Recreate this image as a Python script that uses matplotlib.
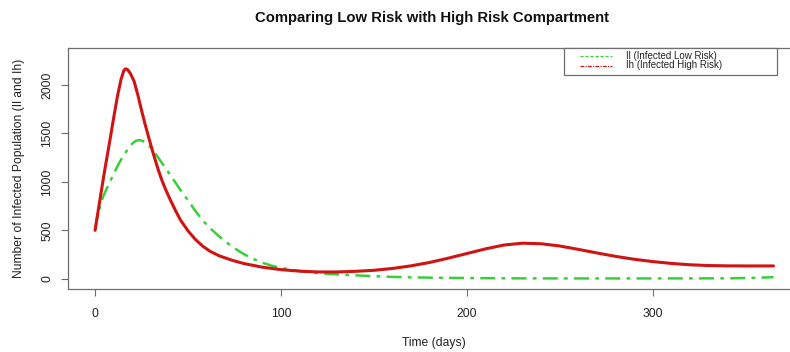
import matplotlib
matplotlib.use("Agg")
import matplotlib.pyplot as plt
from matplotlib.lines import Line2D
from matplotlib.patches import Rectangle

plt.rcParams['font.family'] = ['Liberation Sans', 'DejaVu Sans']

# Infected High Risk (Ih)
t_high = [0, 2, 4, 6, 8, 10, 12, 14, 15.5, 16.4, 17.5, 19, 21, 23, 25, 27, 29, 31, 32,
          34, 36, 38, 40, 43, 46, 50, 54, 58, 62, 67, 73.5, 80, 90, 100, 110, 120,
          130, 140, 150, 160, 170, 180, 190, 200, 210, 220, 230, 240, 250, 260, 270,
          280, 290, 300, 310, 320, 330, 340, 350, 365]
v_high = [500, 740, 980, 1210, 1430, 1660, 1880, 2060, 2150, 2168, 2160, 2120, 2040, 1900, 1740,
          1590, 1450, 1315, 1250, 1125, 1015, 920, 835, 715, 605, 495, 405, 335, 282, 235,
          192, 157, 119, 94, 78, 70, 70, 76, 87, 106, 133, 168, 212, 260, 308, 348, 367,
          361, 338, 303, 266, 231, 201, 177, 158, 144, 136, 133, 132, 132]

# Infected Low Risk (Il)
t_low = [0, 1, 2, 3, 4, 6, 8, 10, 12, 14, 16, 18, 20, 22, 24, 26, 28, 30, 32, 34,
         36, 38, 40, 43, 46, 50, 54, 58, 62, 66, 70, 75, 80, 85, 90, 95, 100, 105,
         110, 115, 120, 130, 140, 150, 160, 170, 180, 200, 225, 250, 300, 340, 355, 365]
v_low = [500, 610, 700, 770, 830, 920, 1000, 1080, 1160, 1230, 1290, 1350, 1395, 1425, 1432,
         1420, 1395, 1355, 1305, 1250, 1195, 1140, 1085, 1000, 915, 810, 700, 600, 520, 450,
         385, 315, 255, 205, 165, 135, 112, 95, 80, 67, 57, 45, 35, 26, 19, 14, 11, 7, 4,
         3, 3, 4, 9, 16]

title = "Comparing Low Risk with High Risk Compartment"
xlabel = "Time (days)"
ylabel = "Number of Infected Population (Il and Ih)"
legend_labels = ["Il (Infected Low Risk)", "Ih (Infected High Risk)"]
xticks = [0, 100, 200, 300]
yticks = [0, 500, 1000, 1500, 2000]

red = "#d01414"
green = "#38cf38"
axcol = "#6e6e6e"
txtcol = "#222222"

W, H = 790, 352
fig = plt.figure(figsize=(W / 100, H / 100), dpi=100)
left_px, right_px, top_px, bot_px = 67.9, 800.7, 47.7, 288.5
ax = fig.add_axes([left_px / W, 1 - bot_px / H, (right_px - left_px) / W, (bot_px - top_px) / H])

ax.plot(t_low, v_low, color=green, lw=1.8, linestyle=(0, (6, 2.5, 1.5, 2.5)), zorder=2)
ax.plot(t_high, v_high, color=red, lw=2.2, solid_capstyle='round', solid_joinstyle='round',
        zorder=3)

ax.set_xlim(-14.6, 379.6)
ax.set_ylim(-101, 2386)
ax.set_xticks(xticks)
ax.set_yticks(yticks)
ax.set_xticklabels([str(v) for v in xticks])
ax.set_yticklabels([str(v) for v in yticks], rotation=90, va='center')
ax.tick_params(axis='both', direction='out', length=5, color=axcol, labelsize=8.7,
               labelcolor=txtcol, width=0.8)
ax.tick_params(axis='x', pad=9)
ax.tick_params(axis='y', pad=5.5)
for s in ax.spines.values():
    s.set_color(axcol)
    s.set_linewidth(0.9)

ax.set_xlabel(xlabel, fontsize=8.7, color=txtcol, labelpad=12)
ax.set_ylabel(ylabel, fontsize=8.7, color=txtcol, labelpad=12)
fig.text(432 / W, 1 - 18 / H, title, ha='center', va='center', fontsize=10.7,
         fontweight='bold', color='#111111')

# legend (R-style, top right)
tf = fig.transFigure
fig.add_artist(Rectangle((564 / W, 1 - 75 / H), (777 - 564) / W, (75 - top_px) / H,
                         transform=tf, facecolor='white', edgecolor=axcol, lw=0.9, zorder=5))
leg_styles = [(green, (0, (2.5, 1.5))), (red, (0, (3, 1, 1, 1)))]
for i, (lab, (col, ls)) in enumerate(zip(legend_labels, leg_styles)):
    y = 1 - (56 + 9.5 * i) / H
    fig.add_artist(Line2D([580 / W, 612 / W], [y, y], transform=tf, color=col, lw=0.9,
                          linestyle=ls, zorder=6))
    fig.text(626 / W, y, lab, ha='left', va='center', fontsize=7, color=txtcol, zorder=6)

fig.savefig("out.png", dpi=100)
